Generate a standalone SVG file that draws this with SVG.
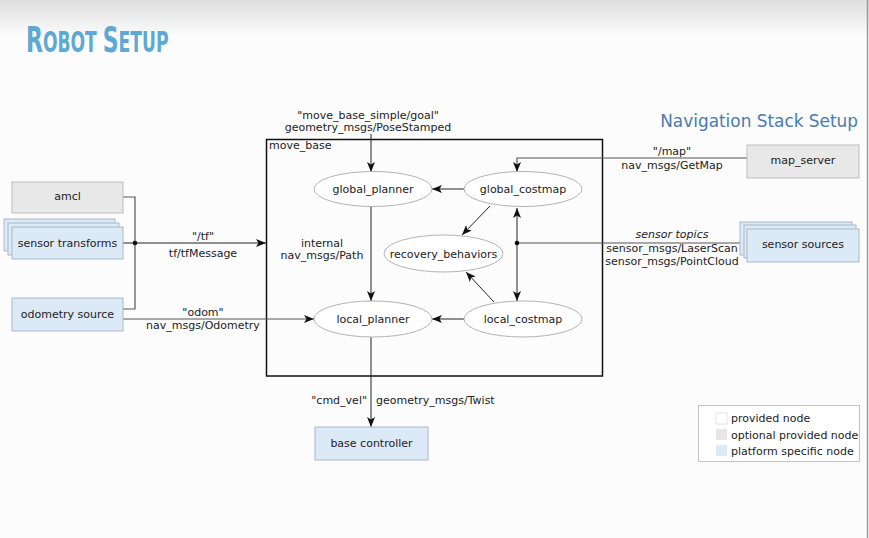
<svg xmlns="http://www.w3.org/2000/svg" width="869" height="538" viewBox="0 0 869 538">
<defs>
<linearGradient id="topg" x1="0" y1="0" x2="0" y2="1">
<stop offset="0" stop-color="#dedede"/>
<stop offset="1" stop-color="#fcfcfc"/>
</linearGradient>
<marker id="arr" markerUnits="userSpaceOnUse" markerWidth="10" markerHeight="8" refX="10" refY="4" orient="auto-start-reverse" viewBox="0 0 10 8">
<path d="M0,0 L10,4 L0,8 L2.5,4 Z" fill="#111"/>
</marker>
<style>
text{font-family:"DejaVu Sans","Liberation Sans",sans-serif;font-size:11px;fill:#222}
.c{text-anchor:middle}
.opt{fill:#e8e8e8;stroke:#bdbdbd;stroke-width:1}
.plat{fill:#dce9f7;stroke:#aab8c6;stroke-width:1}
.ell{fill:#fff;stroke:#b3b3b3;stroke-width:1}
.ln{fill:none;stroke:#222;stroke-width:1}
.lg{fill:none;stroke:#555;stroke-width:1.2}
</style>
</defs>
<rect x="0" y="0" width="869" height="538" fill="#fcfcfc"/>
<rect x="0" y="0" width="869" height="36" fill="url(#topg)"/>
<line x1="867.5" y1="0" x2="867.5" y2="538" stroke="#9a9a9a" stroke-width="1.5"/>

<text transform="translate(26,52) scale(0.68,1)" x="0" y="0" style="font-family:'DejaVu Sans Condensed','DejaVu Sans',sans-serif;font-stretch:condensed;font-weight:bold;fill:#5ea9d3;font-size:28px"><tspan style="font-size:36px">R</tspan>OBOT <tspan style="font-size:36px">S</tspan>ETUP</text>
<text x="858" y="127" style="font-size:16.9px;text-anchor:end;fill:#4a7bab">Navigation Stack Setup</text>

<g id="move_base">
<rect x="266.5" y="139.5" width="336" height="236.5" fill="none" stroke="#111" stroke-width="1.5"/>
<text x="269" y="149">move_base</text>
</g>

<g id="connectors">
<polyline class="lg" points="123,197 135,197 135,309 123,309"/>
<line class="ln" x1="123" y1="243" x2="266" y2="243" marker-end="url(#arr)"/>
<circle cx="135" cy="243" r="2.3" fill="#111"/>
<line class="lg" x1="123" y1="319" x2="314" y2="319" marker-end="url(#arr)"/>
<line class="ln" x1="371" y1="134" x2="371" y2="172" marker-end="url(#arr)"/>
<line class="ln" x1="371" y1="207" x2="371" y2="301" marker-end="url(#arr)"/>
<line class="ln" x1="464" y1="189" x2="432" y2="189" marker-end="url(#arr)"/>
<line class="ln" x1="490" y1="206" x2="462" y2="235" marker-end="url(#arr)"/>
<line class="ln" x1="494" y1="302" x2="466" y2="272" marker-end="url(#arr)"/>
<line class="ln" x1="464" y1="319" x2="432" y2="319" marker-end="url(#arr)"/>
<polyline class="lg" points="747,158 517,158 517,172" marker-end="url(#arr)"/>
<line class="ln" x1="517" y1="208" x2="517" y2="301" marker-start="url(#arr)" marker-end="url(#arr)"/>
<line class="lg" x1="741" y1="243" x2="517" y2="243"/>
<circle cx="517" cy="243" r="2.3" fill="#111"/>
<line class="ln" x1="371" y1="337" x2="371" y2="427" marker-end="url(#arr)"/>

<text class="c" x="203" y="240">"/tf"</text>
<text class="c" x="203" y="257">tf/tfMessage</text>
<text class="c" x="203" y="316">"odom"</text>
<text class="c" x="203" y="329">nav_msgs/Odometry</text>
<text class="c" x="368" y="119">"move_base_simple/goal"</text>
<text class="c" x="368" y="131">geometry_msgs/PoseStamped</text>
<text class="c" x="322" y="247">internal</text>
<text class="c" x="322" y="259">nav_msgs/Path</text>
<text class="c" x="672" y="155">"/map"</text>
<text class="c" x="672" y="169">nav_msgs/GetMap</text>
<text class="c" x="672" y="238" style="font-style:italic">sensor topics</text>
<text class="c" x="672" y="252">sensor_msgs/LaserScan</text>
<text class="c" x="672" y="265">sensor_msgs/PointCloud</text>
<text x="367" y="404" style="text-anchor:end">"cmd_vel"</text>
<text x="376" y="404">geometry_msgs/Twist</text>
</g>

<g id="amcl">
<rect class="opt" x="12" y="182" width="111" height="31"/>
<text class="c" x="67.5" y="200">amcl</text>
</g>
<g id="sensor_transforms">
<rect class="plat" x="4" y="219" width="111" height="32"/>
<rect class="plat" x="8" y="223" width="111" height="32"/>
<rect class="plat" x="12" y="227" width="111" height="32"/>
<text class="c" x="67.5" y="247">sensor transforms</text>
</g>
<g id="odometry_source">
<rect class="plat" x="12" y="298" width="111" height="33"/>
<text class="c" x="67.5" y="318">odometry source</text>
</g>
<g id="map_server">
<rect class="opt" x="747" y="145" width="112" height="33"/>
<text class="c" x="803" y="164">map_server</text>
</g>
<g id="sensor_sources">
<rect class="plat" x="740" y="222" width="112" height="33"/>
<rect class="plat" x="744" y="225" width="112" height="33"/>
<rect class="plat" x="747" y="229" width="112" height="33"/>
<text class="c" x="803" y="248">sensor sources</text>
</g>
<g id="base_controller">
<rect class="plat" x="315" y="427" width="113" height="33"/>
<text class="c" x="371.5" y="447">base controller</text>
</g>

<g id="global_planner">
<ellipse class="ell" cx="373" cy="189" rx="59" ry="17.5"/>
<text class="c" x="373" y="193">global_planner</text>
</g>
<g id="global_costmap">
<ellipse class="ell" cx="523" cy="189" rx="59" ry="17.5"/>
<text class="c" x="523" y="193">global_costmap</text>
</g>
<g id="recovery_behaviors">
<ellipse class="ell" cx="443.5" cy="253.5" rx="59.5" ry="18.5"/>
<text class="c" x="443.5" y="257.5">recovery_behaviors</text>
</g>
<g id="local_planner">
<ellipse class="ell" cx="373" cy="319" rx="59" ry="18"/>
<text class="c" x="373" y="323">local_planner</text>
</g>
<g id="local_costmap">
<ellipse class="ell" cx="523" cy="319" rx="59" ry="18"/>
<text class="c" x="523" y="323">local_costmap</text>
</g>

<g id="legend">
<rect x="698.5" y="405.5" width="161" height="56" fill="#fff" stroke="#c4c4c4"/>
<rect x="716" y="413" width="11" height="11" fill="#fff" stroke="#e2e2e2"/>
<rect x="716" y="429" width="11" height="11" fill="#e6e6e6"/>
<rect x="716" y="445" width="11" height="11" fill="#dce9f7"/>
<text x="731" y="422">provided node</text>
<text x="731" y="439">optional provided node</text>
<text x="731" y="455">platform specific node</text>
</g>
</svg>
